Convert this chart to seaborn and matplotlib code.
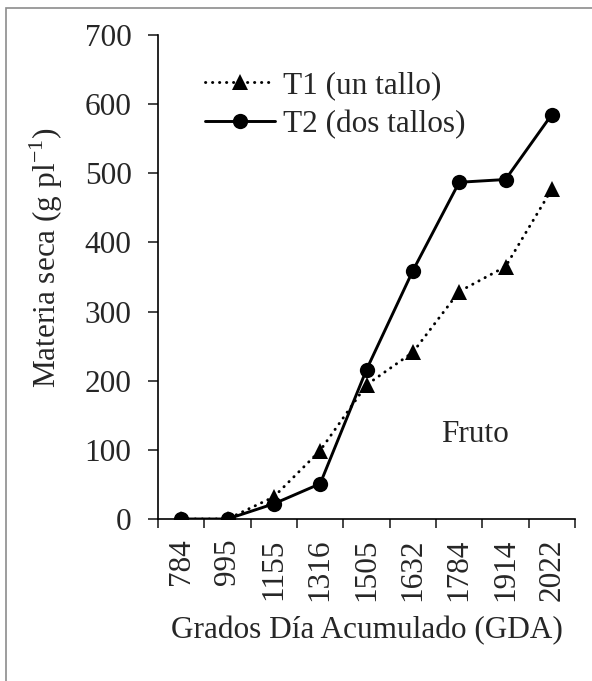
import pandas as pd
import matplotlib.pyplot as plt
import seaborn as sns
from matplotlib.patches import Rectangle
from matplotlib.ticker import FixedLocator

sns.set_style("ticks")
plt.rcParams["font.family"] = ["Liberation Serif", "DejaVu Serif"]
plt.rcParams["mathtext.fontset"] = "custom"
plt.rcParams["mathtext.rm"] = "Liberation Serif"
plt.rcParams["lines.dash_capstyle"] = "round"

# data
gda = ["784", "995", "1155", "1316", "1505", "1632", "1784", "1914", "2022"]
t1_un_tallo = [0, 0, 32, 99, 194, 241, 329, 365, 477]
t2_dos_tallos = [0, 0, 22, 51, 216, 359, 487, 491, 585]
labels = ["T1 (un tallo)", "T2 (dos tallos)"]

df = pd.DataFrame({
    "gda": gda * 2,
    "ms": t1_un_tallo + t2_dos_tallos,
    "trat": [labels[0]] * len(gda) + [labels[1]] * len(gda),
})

fs = 22.5

fig = plt.figure(figsize=(5.92, 6.81), dpi=100)
ax = fig.add_axes([158 / 592, 1 - 519 / 681, (575 - 158) / 592, (519 - 35) / 681])

sns.lineplot(data=df, x="gda", y="ms", hue="trat", style="trat",
             palette=["black", "black"],
             dashes={labels[0]: (0.1, 2.3), labels[1]: ""},
             markers={labels[0]: "^", labels[1]: "o"},
             markersize=11, linewidth=2.1, markeredgewidth=0,
             sort=False, ax=ax)

ax.set_xlim(-0.5, len(gda) - 0.5)
ax.set_ylim(0, 700)
ax.set_yticks(range(0, 701, 100))
ax.tick_params(axis="y", labelsize=fs, length=7, width=1.2, direction="out", pad=12)
ax.tick_params(axis="x", which="major", labelsize=fs, length=0, pad=14, rotation=90)
ax.xaxis.set_minor_locator(FixedLocator([i - 0.5 for i in range(len(gda) + 1)]))
ax.tick_params(axis="x", which="minor", length=6.5, width=1.2, direction="out")
for lab in ax.get_xticklabels():
    lab.set_verticalalignment("top")

sns.despine(ax=ax)
for s in ["left", "bottom"]:
    ax.spines[s].set_linewidth(1.2)
    ax.spines[s].set_color("black")

ax.set_xlabel("Grados Día Acumulado (GDA)", fontsize=fs, labelpad=11)
ax.set_ylabel("Materia seca (g pl$^{-1}$)", fontsize=fs, labelpad=14)
ax.yaxis.label.set_y(0.54)

ax.text(6.35, 122, "Fruto", fontsize=fs, ha="center", va="center")

leg = ax.legend(loc="center left", bbox_to_anchor=(0.113, 0.855), frameon=False,
                fontsize=fs, handlelength=2.25, handletextpad=0.25,
                labelspacing=0.3, borderpad=0, borderaxespad=0, title=None)

fig.patches.append(Rectangle((6 / 592, -0.1), 1.2, 1 - 8 / 681 + 0.1,
                             transform=fig.transFigure, fill=False,
                             edgecolor="#8c8c8c", linewidth=1.2))

plt.savefig("out.png", dpi=100)
